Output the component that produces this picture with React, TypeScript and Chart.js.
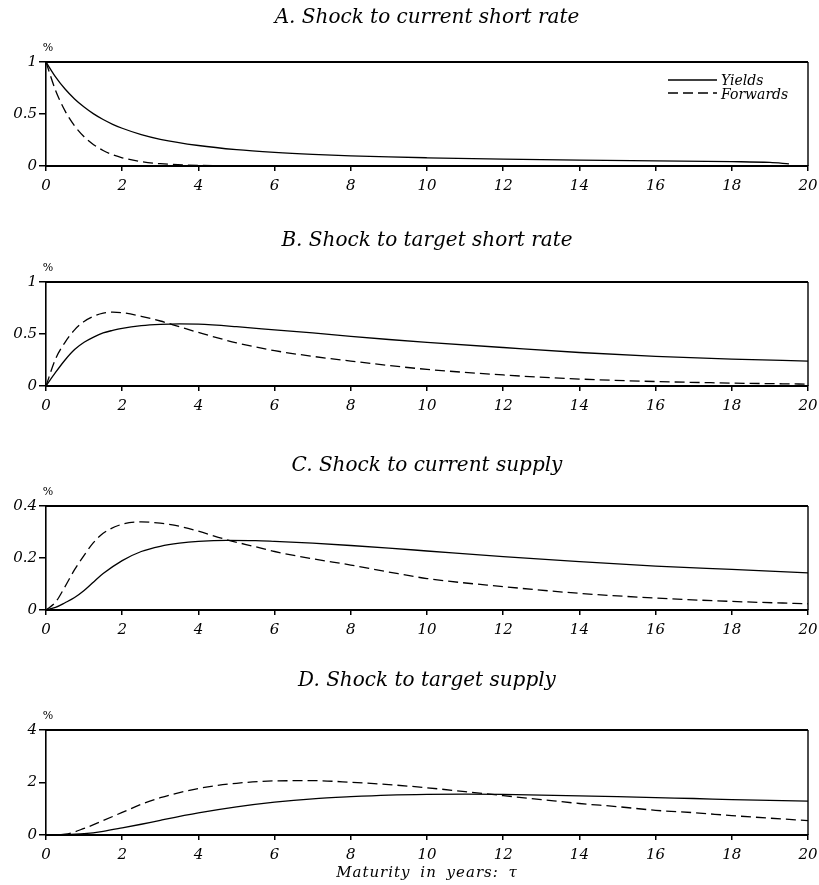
import React, { useEffect, useRef } from "react";
import { Chart, registerables } from "chart.js";

Chart.register(...registerables);

// Maturity grids (years) and impulse responses (%) for each shock
const maturitiesA = [0, 0.25, 0.5, 0.75, 1, 1.25, 1.5, 1.75, 2, 2.5, 3, 4, 5, 6, 7, 8, 9, 10, 12, 14, 16, 18, 19, 19.5, 20];
const yieldsA = [1, 0.857, 0.74, 0.645, 0.567, 0.501, 0.447, 0.401, 0.363, 0.302, 0.257, 0.197, 0.157, 0.131, 0.112, 0.098, 0.087, 0.079, 0.066, 0.056, 0.049, 0.042, 0.034, 0.02, null];
const forwardsA = [1, 0.728, 0.53, 0.386, 0.281, 0.205, 0.149, 0.108, 0.079, 0.042, 0.022, 0.006, 0.002, 0.0005, 0, 0, 0, 0, 0, 0, 0, 0, 0, 0, 0];

const maturitiesB = [0, 0.25, 0.5, 0.75, 1, 1.25, 1.5, 1.75, 2, 2.5, 3, 3.5, 4, 5, 6, 7, 8, 9, 10, 12, 14, 16, 18, 20];
const yieldsB = [0, 0.13, 0.25, 0.35, 0.42, 0.47, 0.51, 0.535, 0.555, 0.58, 0.593, 0.598, 0.594, 0.57, 0.54, 0.51, 0.477, 0.447, 0.42, 0.37, 0.322, 0.285, 0.258, 0.24];
const forwardsB = [0, 0.26, 0.42, 0.54, 0.62, 0.67, 0.7, 0.71, 0.705, 0.67, 0.625, 0.57, 0.515, 0.415, 0.34, 0.285, 0.24, 0.197, 0.16, 0.106, 0.067, 0.043, 0.028, 0.018];

const maturitiesC = [0, 0.25, 0.5, 0.75, 1, 1.25, 1.5, 2, 2.5, 3, 3.5, 4, 4.75, 5.5, 6, 7, 8, 9, 10, 12, 14, 16, 18, 20];
const yieldsC = [0, 0.01, 0.028, 0.048, 0.075, 0.108, 0.14, 0.19, 0.225, 0.245, 0.257, 0.264, 0.268, 0.267, 0.264, 0.257, 0.248, 0.238, 0.227, 0.205, 0.186, 0.169, 0.156, 0.143];
const forwardsC = [0, 0.03, 0.09, 0.155, 0.21, 0.26, 0.295, 0.33, 0.339, 0.334, 0.322, 0.303, 0.27, 0.243, 0.225, 0.197, 0.173, 0.146, 0.121, 0.09, 0.064, 0.046, 0.033, 0.024];

const maturitiesD = [0, 0.5, 1, 1.5, 2, 2.5, 3, 4, 5, 6, 7, 8, 9, 10, 11, 12, 13, 14, 15, 16, 17, 18, 19, 20];
const yieldsD = [0, 0.01, 0.05, 0.14, 0.27, 0.41, 0.56, 0.84, 1.07, 1.25, 1.38, 1.46, 1.52, 1.55, 1.56, 1.55, 1.52, 1.49, 1.46, 1.42, 1.39, 1.35, 1.32, 1.29];
const forwardsD = [0, 0.03, 0.25, 0.55, 0.86, 1.17, 1.42, 1.77, 1.97, 2.06, 2.07, 2.01, 1.92, 1.8, 1.65, 1.5, 1.35, 1.2, 1.08, 0.94, 0.85, 0.74, 0.64, 0.55];

// Axis tick labels
const xTickLabels = ["0", "2", "4", "6", "8", "10", "12", "14", "16", "18", "20"];
const yTicksUnit = ["0", "0.5", "1"];
const yTicksC = ["0", "0.2", "0.4"];
const yTicksD = ["0", "2", "4"];

const panelTitles = [
  "A. Shock to current short rate",
  "B. Shock to target short rate",
  "C. Shock to current supply",
  "D. Shock to target supply",
];
const seriesNames = ["Yields", "Forwards"];
const xAxisTitle = "Maturity in years: \u03c4";
const unitLabel = "%";

const SERIF = '"DejaVu Serif", serif';

type PanelSpec = {
  top: number;
  height: number;
  padTop: number;
  axisH: number;
  titleY: number;
  title: string;
  yMax: number;
  yStep: number;
  yLabels: string[];
  maturities: number[];
  yields: (number | null)[];
  forwards: number[];
  legend?: boolean;
  xTitle?: boolean;
};

const panels: PanelSpec[] = [
  { top: 0, height: 200, padTop: 62, axisH: 34, titleY: 23, title: panelTitles[0], yMax: 1, yStep: 0.5, yLabels: yTicksUnit, maturities: maturitiesA, yields: yieldsA, forwards: forwardsA, legend: true },
  { top: 200, height: 220, padTop: 82, axisH: 34, titleY: 46, title: panelTitles[1], yMax: 1, yStep: 0.5, yLabels: yTicksUnit, maturities: maturitiesB, yields: yieldsB, forwards: forwardsB },
  { top: 420, height: 224, padTop: 86, axisH: 34, titleY: 51, title: panelTitles[2], yMax: 0.4, yStep: 0.2, yLabels: yTicksC, maturities: maturitiesC, yields: yieldsC, forwards: forwardsC },
  { top: 644, height: 241, padTop: 86, axisH: 50, titleY: 42, title: panelTitles[3], yMax: 4, yStep: 2, yLabels: yTicksD, maturities: maturitiesD, yields: yieldsD, forwards: forwardsD, xTitle: true },
];

// Frame, panel title, unit label, legend and maturity caption
const panelDecor = {
  id: "panelDecor",
  afterDraw(chart: any, _args: any, opts: any) {
    const { ctx, chartArea } = chart;
    const { left, right, top, bottom } = chartArea;
    ctx.save();
    ctx.strokeStyle = "#000";
    ctx.lineWidth = 2;
    ctx.beginPath();
    ctx.moveTo(left - 0.8, top);
    ctx.lineTo(right, top);
    ctx.stroke();
    ctx.lineWidth = 1.4;
    ctx.beginPath();
    ctx.moveTo(right, top);
    ctx.lineTo(right, bottom);
    ctx.stroke();

    ctx.fillStyle = "#000";
    ctx.textAlign = "center";
    ctx.textBaseline = "alphabetic";
    ctx.font = `italic 20px ${SERIF}`;
    ctx.fillText(opts.title, (left + right) / 2, opts.titleY);

    ctx.font = `11px ${SERIF}`;
    ctx.textBaseline = "middle";
    ctx.fillText(unitLabel, left + 2, top - 14);

    if (opts.legend) {
      const x0 = 668;
      const x1 = 717;
      ctx.lineWidth = 1.3;
      ctx.beginPath();
      ctx.moveTo(x0, 80);
      ctx.lineTo(x1, 80);
      ctx.stroke();
      ctx.setLineDash([10, 5]);
      ctx.beginPath();
      ctx.moveTo(x0, 93);
      ctx.lineTo(x1, 93);
      ctx.stroke();
      ctx.setLineDash([]);
      ctx.font = `italic 14px ${SERIF}`;
      ctx.textAlign = "left";
      ctx.textBaseline = "alphabetic";
      ctx.fillText(seriesNames[0], 721, 85);
      ctx.fillText(seriesNames[1], 721, 99);
    }

    if (opts.xTitle) {
      ctx.font = `italic 15px ${SERIF}`;
      ctx.letterSpacing = "1px";
      ctx.wordSpacing = "4px";
      ctx.textAlign = "center";
      ctx.textBaseline = "alphabetic";
      ctx.fillText(xAxisTitle, (left + right) / 2, bottom + 42);
    }
    ctx.restore();
  },
};

function Panel({ spec }: { spec: PanelSpec }) {
  const ref = useRef<HTMLCanvasElement | null>(null);

  useEffect(() => {
    if (!ref.current) return;
    const tickFont = { family: SERIF, style: "italic" as const, size: 15 };
    const points = (ys: (number | null)[]) =>
      spec.maturities.map((m, i) => ({ x: m, y: ys[i] }));

    const chart = new Chart(ref.current, {
      type: "line",
      data: {
        datasets: [
          {
            label: seriesNames[0],
            data: points(spec.yields) as any,
            borderColor: "#000",
            borderWidth: 1.3,
            pointRadius: 0,
            cubicInterpolationMode: "monotone",
            fill: false,
          },
          {
            label: seriesNames[1],
            data: points(spec.forwards) as any,
            borderColor: "#000",
            borderWidth: 1.3,
            borderDash: [10, 5],
            pointRadius: 0,
            cubicInterpolationMode: "monotone",
            fill: false,
          },
        ],
      },
      options: {
        responsive: false,
        maintainAspectRatio: false,
        animation: false,
        events: [],
        layout: { padding: { top: spec.padTop, right: 11, left: 0, bottom: 0 } },
        plugins: {
          legend: { display: false },
          tooltip: { enabled: false },
          title: { display: false },
          panelDecor: { title: spec.title, titleY: spec.titleY, legend: !!spec.legend, xTitle: !!spec.xTitle },
        } as any,
        scales: {
          x: {
            type: "linear",
            min: 0,
            max: 20,
            ticks: {
              stepSize: 2,
              color: "#000",
              font: tickFont,
              padding: 6,
              maxRotation: 0,
              autoSkip: false,
              callback: (_v: any, i: number) => xTickLabels[i],
            },
            grid: { drawOnChartArea: false, drawTicks: true, tickLength: 5, color: "#000", lineWidth: 1.5 },
            border: { display: true, color: "#000", width: 2 },
            afterFit: (s: any) => {
              s.height = spec.axisH;
              s.paddingLeft = 0;
              s.paddingRight = 0;
            },
          },
          y: {
            type: "linear",
            min: 0,
            max: spec.yMax,
            ticks: {
              stepSize: spec.yStep,
              color: "#000",
              font: tickFont,
              padding: 2,
              callback: (_v: any, i: number) => spec.yLabels[i],
            },
            grid: { drawOnChartArea: false, drawTicks: true, tickLength: 7, color: "#000", lineWidth: 1.5 },
            border: { display: true, color: "#000", width: 1.6 },
            afterFit: (s: any) => {
              s.width = 46;
              s.paddingTop = 0;
              s.paddingBottom = 0;
            },
          },
        },
      },
      plugins: [panelDecor],
    });
    return () => chart.destroy();
  }, [spec]);

  return (
    <canvas
      ref={ref}
      width={819}
      height={spec.height}
      style={{ position: "absolute", left: 0, top: spec.top, width: 819, height: spec.height, display: "block" }}
    />
  );
}

export default function App() {
  return (
    <div style={{ position: "absolute", left: 0, top: 0, width: 819, height: 885, background: "#fff" }}>
      {panels.map((p) => (
        <Panel key={p.title} spec={p} />
      ))}
    </div>
  );
}
